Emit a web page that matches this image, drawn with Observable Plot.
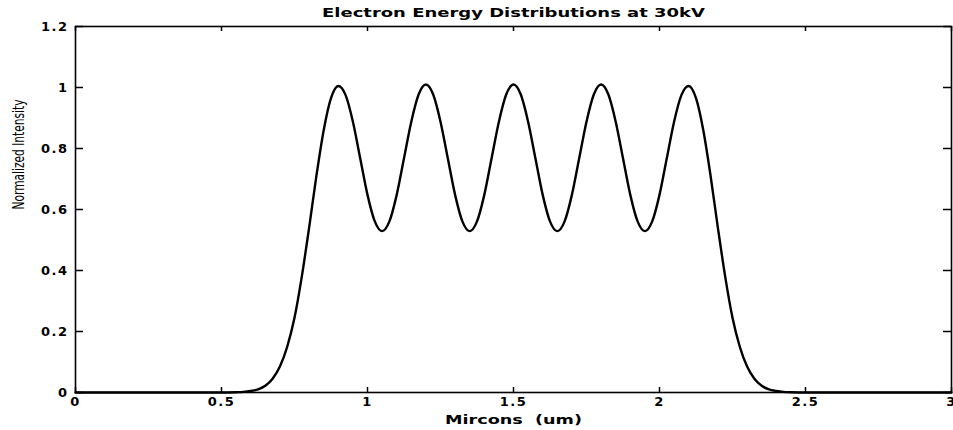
<!DOCTYPE html>
<html>
<head>
<meta charset="utf-8">
<script src="https://cdn.jsdelivr.net/npm/d3@7"></script>
<script src="https://cdn.jsdelivr.net/npm/@observablehq/plot@0.6"></script>
<style>
  html, body { margin: 0; padding: 0; background: #fff; }
  #chart { width: 953px; height: 430px; }
</style>
</head>
<body>
<div id="chart"></div>
<script>
const titleText = "Electron Energy Distributions at 30kV";
const xLabelText = "Mircons  (um)";
const yLabelText = "Normalized Intensity";

const xTicks = [0, 0.5, 1, 1.5, 2, 2.5, 3];
const yTicks = [0, 0.2, 0.4, 0.6, 0.8, 1, 1.2];

const xs = [0, 0.5, 0.55, 0.575, 0.6, 0.625, 0.65, 0.675, 0.7, 0.725, 0.75, 0.775, 0.8, 0.825, 0.85, 0.875,
  0.9, 0.925, 0.95, 0.975, 1.0, 1.025, 1.05, 1.075, 1.1, 1.125, 1.15, 1.175,
  1.2, 1.225, 1.25, 1.275, 1.3, 1.325, 1.35, 1.375, 1.4, 1.425, 1.45, 1.475,
  1.5, 1.525, 1.55, 1.575, 1.6, 1.625, 1.65, 1.675, 1.7, 1.725, 1.75, 1.775,
  1.8, 1.825, 1.85, 1.875, 1.9, 1.925, 1.95, 1.975, 2.0, 2.025, 2.05, 2.075,
  2.1, 2.125, 2.15, 2.175, 2.2, 2.225, 2.25, 2.275, 2.3, 2.325, 2.35, 2.375, 2.4, 2.425, 2.45, 2.5, 3];
const ys = [0, 0, 0.001, 0.002, 0.005, 0.01, 0.022, 0.045, 0.085, 0.15, 0.245, 0.38, 0.54, 0.71, 0.86, 0.965,
  1.005, 0.975, 0.888, 0.768, 0.648, 0.561, 0.529, 0.561, 0.648, 0.768, 0.888, 0.977,
  1.01, 0.977, 0.888, 0.768, 0.648, 0.561, 0.529, 0.561, 0.648, 0.768, 0.888, 0.977,
  1.01, 0.977, 0.888, 0.768, 0.648, 0.561, 0.529, 0.561, 0.648, 0.768, 0.888, 0.977,
  1.01, 0.977, 0.888, 0.768, 0.648, 0.561, 0.529, 0.561, 0.648, 0.768, 0.888, 0.975,
  1.005, 0.965, 0.86, 0.71, 0.54, 0.38, 0.245, 0.15, 0.085, 0.045, 0.022, 0.01, 0.005, 0.002, 0.001, 0, 0];

const data = xs.map((x, i) => ({x, y: ys[i]}));

const W = 953, H = 430;
const mL = 75, mR = 2, mT = 26, mB = 38;
const fw = W - mL - mR, fh = H - mT - mB;

const plot = Plot.plot({
  width: W,
  height: H,
  marginLeft: mL,
  marginRight: mR,
  marginTop: mT,
  marginBottom: mB,
  style: {fontFamily: "'DejaVu Sans', sans-serif", fontSize: "13px", fontWeight: "bold", background: "#fff", color: "#000"},
  x: {domain: [0, 3], ticks: xTicks, tickSize: 0, tickPadding: 4, tickFormat: d => String(d), label: null},
  y: {domain: [0, 1.2], ticks: yTicks, tickSize: 0, tickPadding: 7, tickFormat: d => String(d), label: null},
  marks: [
    Plot.frame({stroke: "#000", strokeWidth: 1.6}),
    Plot.tickY(yTicks, {y: d => d, insetRight: fw - 8, stroke: "#000", strokeWidth: 1.5}),
    Plot.tickY(yTicks, {y: d => d, insetLeft: fw - 8, stroke: "#000", strokeWidth: 1.5}),
    Plot.tickX(xTicks, {x: d => d, insetTop: fh - 5, stroke: "#000", strokeWidth: 1.5}),
    Plot.tickX(xTicks, {x: d => d, insetBottom: fh - 5, stroke: "#000", strokeWidth: 1.5}),
    Plot.line(data, {x: "x", y: "y", stroke: "#000", strokeWidth: 2.4, curve: "monotone-x"}),
    Plot.text([titleText], {text: d => d, frameAnchor: "top", lineAnchor: "middle", dy: -14, fontSize: 13, fontWeight: "bold", fill: "#000"}),
    Plot.text([xLabelText], {text: d => d, frameAnchor: "bottom", lineAnchor: "middle", dy: 27, fontSize: 13, fontWeight: "bold", fill: "#000"}),
    Plot.text([yLabelText], {text: d => d, frameAnchor: "left", lineAnchor: "middle", dx: -57, rotate: -90, fontSize: 16, fontWeight: "normal", fill: "#000", fontFamily: "'Liberation Sans Narrow', 'DejaVu Sans Condensed', 'Liberation Sans', sans-serif"})
  ]
});

document.getElementById("chart").appendChild(plot);

// Fit text widths to the reference
const svg = d3.select(plot);
svg.selectAll("text").each(function() {
  const t = d3.select(this);
  const s = this.textContent;
  if (s === titleText) t.attr("textLength", 383).attr("lengthAdjust", "spacingAndGlyphs");
  else if (s === xLabelText) t.attr("textLength", 137).attr("lengthAdjust", "spacingAndGlyphs");
  else if (s === yLabelText) t.attr("textLength", 110).attr("lengthAdjust", "spacingAndGlyphs");
});
svg.selectAll("g[aria-label$='tick label'] text").style("letter-spacing", "1.5px");
</script>
</body>
</html>
